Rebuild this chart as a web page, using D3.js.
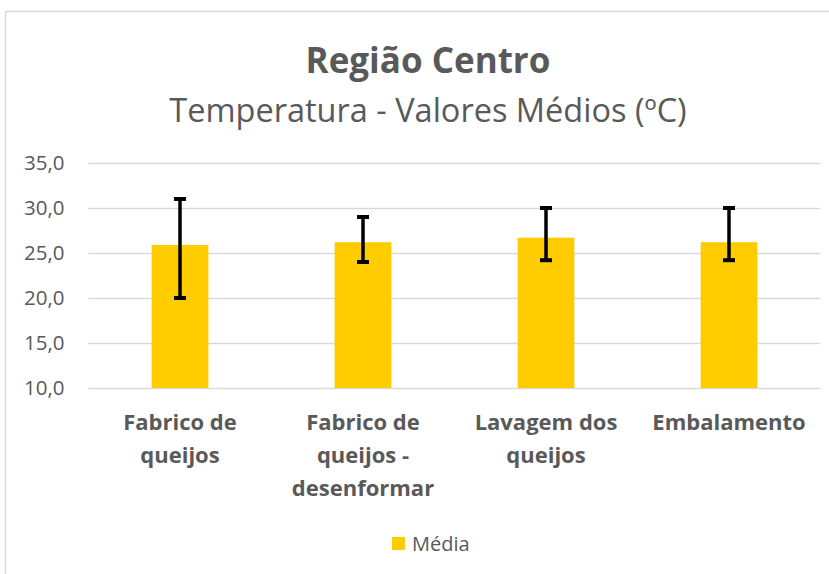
<!DOCTYPE html>
<html><head><meta charset="utf-8">
<script src="https://cdn.jsdelivr.net/npm/d3@7"></script>
<style>body{margin:0;background:#fff}svg{display:block}</style>
</head><body><svg id="c" width="829" height="574"></svg>
<script>
const categories = [["Fabrico de","queijos"],["Fabrico de","queijos -","desenformar"],["Lavagem dos","queijos"],["Embalamento"]];
const media = [25.9, 26.2, 26.7, 26.2];
const errLow = [20.0, 24.0, 24.2, 24.2];
const errHigh = [31.0, 29.0, 30.0, 30.0];
const yTicks = [10,15,20,25,30,35];

const svg = d3.select("#c");
const font = "'Open Sans', sans-serif";
svg.append("rect").attr("x",5.5).attr("y",11.5).attr("width",840).attr("height",600)
  .attr("fill","none").attr("stroke","#d9d9d9").attr("stroke-width",1.5);

const x = d3.scaleBand().domain(d3.range(categories.length)).range([88.5,820.5]).paddingInner(0.69).paddingOuter(0.345);
const y = d3.scaleLinear().domain([10,35]).range([388,163]);

svg.append("text").attr("x",428).attr("y",73).attr("text-anchor","middle")
  .attr("font-family",font).attr("font-weight","bold").attr("font-size",35).attr("fill","#595959").text("Região Centro");
svg.append("text").attr("x",428).attr("y",122).attr("text-anchor","middle")
  .attr("font-family",font).attr("font-size",32.5).attr("fill","#595959").text("Temperatura - Valores Médios (ºC)");

const yAxis = d3.axisLeft(y).tickValues(yTicks).tickSize(-(820.5-88.5)).tickFormat(d=>d3.format(".1f")(d).replace(".",","));
const ga = svg.append("g").attr("transform","translate(88.5,0)").call(yAxis);
ga.select(".domain").remove();
ga.selectAll(".tick line").attr("stroke","#d9d9d9").attr("stroke-width",1.5);
ga.selectAll(".tick text").attr("x",-24).attr("font-family",font).attr("font-size",20.5).attr("fill","#595959");

svg.append("g").selectAll("rect").data(media).join("rect")
  .attr("x",(d,i)=>x(i)).attr("width",x.bandwidth()).attr("y",d=>y(d)).attr("height",d=>y(10)-y(d)).attr("fill","#FFCC00");

const eg = svg.append("g").attr("stroke","#000");
media.forEach((d,i)=>{
  const cx = x(i)+x.bandwidth()/2;
  eg.append("line").attr("x1",cx).attr("x2",cx).attr("y1",y(errLow[i])).attr("y2",y(errHigh[i])).attr("stroke-width",3.5);
  [errLow[i],errHigh[i]].forEach(v=>eg.append("line").attr("x1",cx-6).attr("x2",cx+6).attr("y1",y(v)).attr("y2",y(v)).attr("stroke-width",4));
});

const xl = svg.append("g");
categories.forEach((lines,i)=>{
  const cx = x(i)+x.bandwidth()/2;
  const t = xl.append("text").attr("x",cx).attr("y",430).attr("text-anchor","middle")
    .attr("font-family",font).attr("font-weight","bold").attr("font-size",22).attr("fill","#595959");
  lines.forEach((l,j)=>t.append("tspan").attr("x",cx).attr("y",430+j*33).text(l));
});

svg.append("rect").attr("x",392).attr("y",537).attr("width",13).attr("height",13).attr("fill","#FFCC00");
svg.append("text").attr("x",412).attr("y",551).attr("font-family",font).attr("font-size",20).attr("fill","#595959").text("Média");
</script></body></html>
